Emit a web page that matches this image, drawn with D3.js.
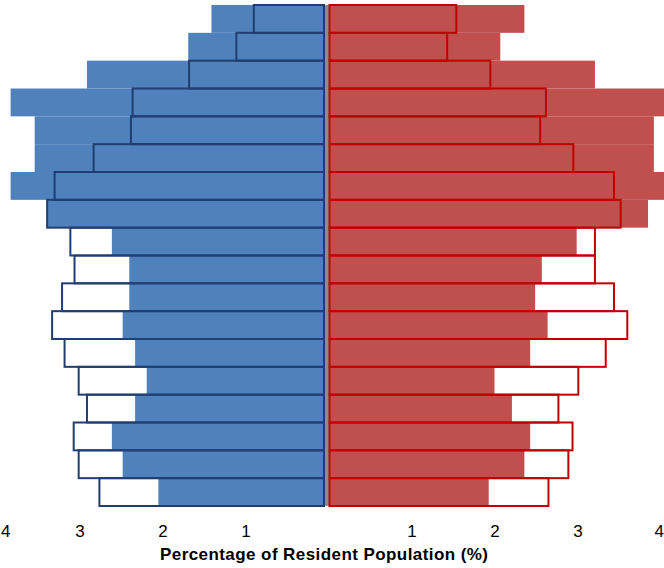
<!DOCTYPE html>
<html>
<head>
<meta charset="utf-8">
<script src="https://cdn.jsdelivr.net/npm/d3@7"></script>
<style>
  html, body { margin: 0; padding: 0; background: #fff; }
  svg { display: block; overflow: hidden; }
</style>
</head>
<body>
<script>
// Age groups, top (oldest) to bottom (youngest)
const ageGroups = ["85+","80-84","75-79","70-74","65-69","60-64","55-59","50-54","45-49",
                   "40-44","35-39","30-34","25-29","20-24","15-19","10-14","5-9","0-4"];
// Male (left) - filled bars (later year) and outlined bars (earlier year), % of resident population
const maleFilled   = [1.41, 1.69, 2.91, 3.83, 3.54, 3.54, 3.83, 3.38, 2.61, 2.40, 2.40, 2.48, 2.33, 2.19, 2.33, 2.61, 2.48, 2.05];
const maleOutline  = [0.90, 1.11, 1.68, 2.36, 2.38, 2.83, 3.30, 3.39, 3.11, 3.06, 3.21, 3.33, 3.18, 3.01, 2.91, 3.07, 3.01, 2.76];
// Female (right)
const femaleFilled  = [2.36, 2.07, 3.21, 4.10, 3.92, 3.92, 4.10, 3.85, 2.99, 2.57, 2.49, 2.64, 2.43, 2.00, 2.21, 2.43, 2.36, 1.93];
const femaleOutline = [1.54, 1.43, 1.95, 2.62, 2.55, 2.95, 3.44, 3.52, 3.21, 3.21, 3.44, 3.60, 3.34, 3.01, 2.77, 2.94, 2.89, 2.65];
// Axis ticks
const tickValues = [-4, -3, -2, -1, 0, 1, 2, 3, 4];
const tickLabels = ["4", "3", "2", "1", "", "1", "2", "3", "4"];
const axisTitle = "Percentage of Resident Population (%)";

const W = 664, H = 568;
const svg = d3.select("body").append("svg").attr("width", W).attr("height", H);

const x = d3.scaleLinear().domain([-4, 4]).range([-3.5, 660.5]);
const y = d3.scaleBand().domain(ageGroups).range([5, 506]).padding(0);

const leftEnd = x(0) - 4.5;   // blue bars stop at the grey centre band
const rightStart = x(0) + 1;  // red bars start after it

const rows = ageGroups.map((a, i) => ({
  age: a, mf: maleFilled[i], mo: maleOutline[i], ff: femaleFilled[i], fo: femaleOutline[i]
}));

const BLUE = "#4f81bd", BLUE_LINE = "#203e70";
const RED = "#c0504d", RED_LINE = "#c00000";
const FONT = "'Liberation Sans', Arial, sans-serif";

// filled bars
svg.append("g").selectAll("rect").data(rows).join("rect")
  .attr("x", d => x(-d.mf)).attr("y", d => y(d.age))
  .attr("width", d => leftEnd - x(-d.mf)).attr("height", y.bandwidth())
  .attr("fill", BLUE);
svg.append("g").selectAll("rect").data(rows).join("rect")
  .attr("x", rightStart).attr("y", d => y(d.age))
  .attr("width", d => x(d.ff) - rightStart).attr("height", y.bandwidth())
  .attr("fill", RED);

// centre band
svg.append("rect")
  .attr("x", leftEnd).attr("y", y.range()[0])
  .attr("width", rightStart - leftEnd).attr("height", y.range()[1] - y.range()[0])
  .attr("fill", "#8c8c8c");

// outlined bars
svg.append("g").selectAll("rect").data(rows).join("rect")
  .attr("x", d => x(-d.mo)).attr("y", d => y(d.age))
  .attr("width", d => leftEnd - x(-d.mo)).attr("height", y.bandwidth())
  .attr("fill", "none").attr("stroke", BLUE_LINE).attr("stroke-width", 2);
svg.append("g").selectAll("rect").data(rows).join("rect")
  .attr("x", rightStart).attr("y", d => y(d.age))
  .attr("width", d => x(d.fo) - rightStart).attr("height", y.bandwidth())
  .attr("fill", "none").attr("stroke", RED_LINE).attr("stroke-width", 2);

// x axis
const axis = d3.axisBottom(x).tickValues(tickValues)
  .tickFormat((d, i) => tickLabels[i]).tickSize(0).tickPadding(0);
const gAxis = svg.append("g").attr("transform", "translate(0,525)").call(axis);
gAxis.select(".domain").remove();
gAxis.selectAll("text")
  .attr("font-family", FONT)
  .attr("font-size", 17).attr("fill", "#000");
// keep the outer labels inside the picture edges
gAxis.selectAll(".tick").filter(d => d === 4).select("text")
  .attr("text-anchor", "end").attr("x", W - x(4) - 0.5);
gAxis.selectAll(".tick").filter(d => d === -4).select("text")
  .attr("text-anchor", "start").attr("x", 0.5 - x(-4));

svg.append("text")
  .attr("x", 324).attr("y", 560)
  .attr("text-anchor", "middle")
  .attr("font-family", FONT)
  .attr("font-size", 17).attr("font-weight", "bold").attr("fill", "#000")
  .attr("textLength", 328).attr("lengthAdjust", "spacing")
  .text(axisTitle);
</script>
</body>
</html>
